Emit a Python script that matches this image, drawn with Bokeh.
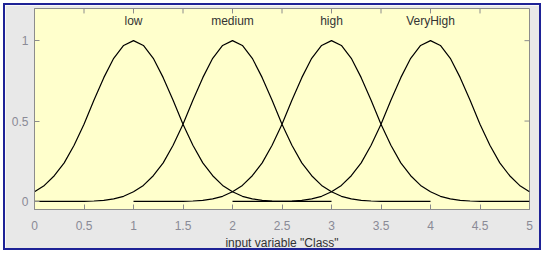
from bokeh.plotting import figure
from bokeh.models import Range1d, FixedTicker, ColumnDataSource
from bokeh.core.properties import value
from bokeh.embed import file_html
from bokeh.resources import INLINE

# ---- data ----
mf_names = ["low", "medium", "high", "VeryHigh"]
mf_centers = [1.0, 2.0, 3.0, 4.0]
label_y = 1.12
# membership value vs. distance from the centre (same shape for every set)
dist = [0.0, 0.1, 0.2, 0.3, 0.4, 0.5, 0.6, 0.7, 0.8, 0.9, 1.0,
        1.1, 1.2, 1.3, 1.4, 1.5, 1.6, 1.7, 1.8, 1.9, 2.0]
membership = [1.0, 0.97, 0.89, 0.77, 0.63, 0.48, 0.35, 0.24, 0.16, 0.1, 0.06,
              0.032, 0.016, 0.007, 0.003, 0.001, 0.0, 0.0, 0.0, 0.0, 0.0]
x_ticks = [0, 0.5, 1, 1.5, 2, 2.5, 3, 3.5, 4, 4.5, 5]
y_ticks = [0, 0.5, 1]
x_label = 'input variable "Class"'

FONT = "Liberation Sans"
GRAY = "#8a8a96"
FRAME = "#8c8c8c"

X0, X1 = 0, 5
Y0, Y1 = -0.05, 1.2
W, H = 538, 247
BL, BR, BT, BB = 29, 14, 3, 41
FW, FH = W - BL - BR, H - BT - BB
TICK = 5  # px

p = figure(width=W, height=H, output_backend="svg", toolbar_location=None,
           x_range=Range1d(X0, X1), y_range=Range1d(Y0, Y1),
           background_fill_color="#ffffcc", border_fill_color="#e8e8e8",
           min_border_left=BL, min_border_right=BR, min_border_top=BT, min_border_bottom=BB)
p.styles = {"border": "2px solid #1e2296", "margin-left": "3px", "margin-top": "3px"}
p.grid.visible = False
p.outline_line_color = FRAME
p.outline_line_width = 1

for ax in p.xaxis:
    ax.ticker = FixedTicker(ticks=x_ticks)
    ax.major_tick_in = TICK
    ax.major_tick_out = 0
    ax.minor_tick_in = 0
    ax.minor_tick_out = 0
    ax.axis_line_color = FRAME
    ax.major_tick_line_color = FRAME
    ax.major_label_text_color = GRAY
    ax.major_label_text_font = FONT
    ax.major_label_text_font_size = "12px"
    ax.major_label_standoff = 11
    ax.axis_label = x_label
    ax.axis_label_text_font = FONT
    ax.axis_label_text_font_size = "12px"
    ax.axis_label_text_font_style = "normal"
    ax.axis_label_text_color = "#333333"
    ax.axis_label_standoff = 3
for ax in p.yaxis:
    ax.ticker = FixedTicker(ticks=y_ticks)
    ax.major_tick_in = TICK
    ax.major_tick_out = 0
    ax.minor_tick_in = 0
    ax.minor_tick_out = 0
    ax.axis_line_color = FRAME
    ax.major_tick_line_color = FRAME
    ax.major_label_text_color = GRAY
    ax.major_label_text_font = FONT
    ax.major_label_text_font_size = "12px"
    ax.major_label_standoff = 6

# inward ticks on the top and right sides of the box
dy = TICK * (Y1 - Y0) / FH
dx = TICK * (X1 - X0) / FW
p.segment(x0=x_ticks, y0=[Y1] * len(x_ticks), x1=x_ticks, y1=[Y1 - dy] * len(x_ticks),
          line_color=FRAME, line_width=1)
p.segment(x0=[X1] * len(y_ticks), y0=y_ticks, x1=[X1 - dx] * len(y_ticks), y1=y_ticks,
          line_color=FRAME, line_width=1)

# curves
for c in mf_centers:
    xs, ys = [], []
    for d, m in zip(dist[::-1], membership[::-1]):
        xs.append(c - d); ys.append(m)
    for d, m in zip(dist[1:], membership[1:]):
        xs.append(c + d); ys.append(m)
    pts = [(x, y) for x, y in zip(xs, ys) if X0 <= x <= X1]
    p.line([q[0] for q in pts], [q[1] for q in pts], line_color="black", line_width=1.2)

src = ColumnDataSource(dict(x=mf_centers, y=[label_y] * len(mf_centers), t=mf_names))
p.text(x="x", y="y", text="t", source=src, text_align="center", text_baseline="middle",
       text_font=value(FONT), text_font_size="12px", text_color="#333333")

open("out.html", "w").write(file_html(p, INLINE))
